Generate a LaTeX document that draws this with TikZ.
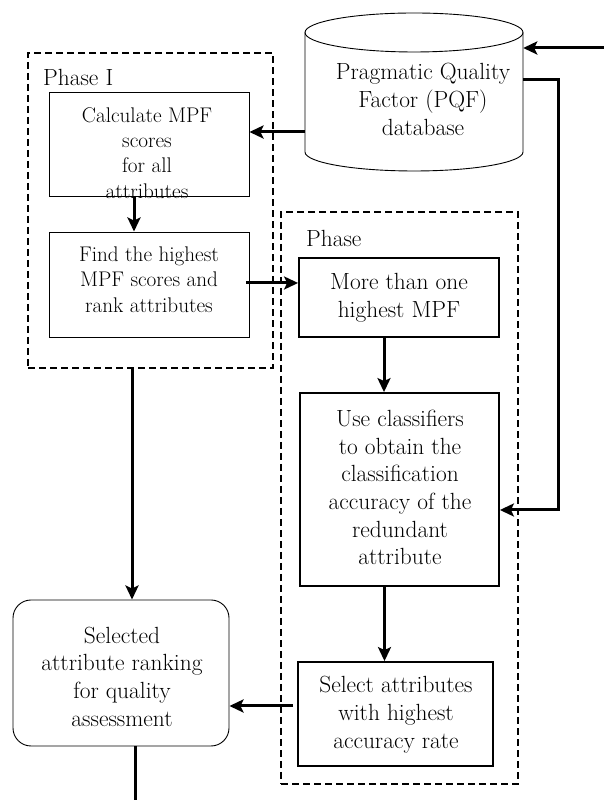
\documentclass[tikz,border=0pt]{standalone}
\usepackage{fontspec}
\usetikzlibrary{arrows.meta}
\begin{document}
\begin{tikzpicture}[x=1pt,y=1pt,
  thinbox/.style={draw,line width=0.9pt,inner sep=0pt},
  thickbox/.style={draw,line width=1.8pt,inner sep=0pt},
  phasebox/.style={draw,line width=2.2pt,dash pattern=on 7pt off 4pt,inner sep=0pt},
  bigtxt/.style={align=center,inner sep=0pt,font=\fontsize{23.4}{27.7}\selectfont},
  smalltxt/.style={align=center,inner sep=0pt,font=\fontsize{21.2}{25.3}\selectfont},
  arr/.style={line width=3pt,-{Stealth[length=14pt,width=13pt,inset=3pt]}},
  conn/.style={line width=3pt}]
\useasboundingbox (0,0) rectangle (604,800);
% cylinder
\draw[line width=0.9pt,fill=white] (305,767.5) -- (305,648) arc[start angle=180,end angle=360,x radius=109pt,y radius=19pt] -- (523,767.5);
\draw[line width=0.9pt] (414,767.5) ellipse[x radius=109pt,y radius=19.5pt];
\node[minimum width=218pt,minimum height=100pt,inner sep=0pt] (db) at (414,698) {};
\node[bigtxt] (dbtxt) at (423,700.5) {Pragmatic Quality\\Factor (PQF)\\database};
% phase boxes
\node[phasebox,minimum width=245pt,minimum height=315pt] (ph1) at (150.5,589.5) {};
\node[phasebox,minimum width=237pt,minimum height=572pt] (ph2) at (399.5,302) {};
\node[bigtxt,anchor=west] (ph1lab) at (43,723) {Phase I};
\node[bigtxt,anchor=west] (ph2lab) at (306,562) {Phase};
% boxes
\node[thinbox,minimum width=200pt,minimum height=104pt] (calc) at (149,656) {};
\node[smalltxt] (calctxt) at (147,647) {Calculate MPF\\scores\\for all\\attributes};
\node[thinbox,minimum width=200pt,minimum height=105pt] (find) at (149,515.5) {};
\node[smalltxt] (findtxt) at (149,520.5) {Find the highest\\MPF scores and\\rank attributes};
\node[thickbox,minimum width=200pt,minimum height=79pt] (more) at (399,502.5) {};
\node[bigtxt] (moretxt) at (399,502.5) {More than one\\highest MPF};
\node[thickbox,minimum width=199pt,minimum height=193pt] (use) at (399.5,310.5) {};
\node[bigtxt] (usetxt) at (400,312.5) {Use classifiers\\to obtain the\\classification\\accuracy of the\\redundant\\attribute};
\node[thickbox,minimum width=195pt,minimum height=104pt] (sel2) at (395.5,86) {};
\node[bigtxt] (sel2txt) at (396,85.5) {Select attributes\\with highest\\accuracy rate};
\node[thinbox,rounded corners=18pt,minimum width=216pt,minimum height=146pt] (res) at (121,127) {};
\node[bigtxt] (restxt) at (122,123.5) {Selected\\attribute ranking\\for quality\\assessment};
% connectors
\coordinate (inp) at (604,752);
\draw[arr] (inp) -- (db.east |- inp);
\coordinate (c1) at (558,720);
\coordinate (c2) at (558,290);
\draw[arr] (db.east |- c1) -- (c1) -- (c2) -- (use.east |- c2);
\coordinate (k1) at ([yshift=12pt]calc.east);
\draw[arr] (k1 -| db.west) -- (k1);
\coordinate (k2) at ([xshift=-15pt]calc.south);
\draw[arr] (k2) -- (k2 |- find.north);
\coordinate (k3) at ([xshift=-3pt,yshift=1.5pt]find.east);
\draw[arr] (k3) -- (k3 -| more.west);
\coordinate (k4) at ([xshift=-15pt]more.south);
\draw[arr] (k4) -- (k4 |- use.north);
\coordinate (k5) at ([xshift=-15pt]use.south);
\draw[arr] (k5) -- (k5 |- sel2.north);
\coordinate (k6) at ([xshift=-4pt,yshift=8pt]sel2.west);
\draw[arr] (k6) -- (k6 -| res.east);
\coordinate (k7) at ([xshift=-18.5pt]ph1.south);
\draw[arr] (k7) -- (k7 |- res.north);
\coordinate (outp) at (135,0);
\draw[conn] (outp |- res.south) -- (outp);
\end{tikzpicture}
\end{document}
